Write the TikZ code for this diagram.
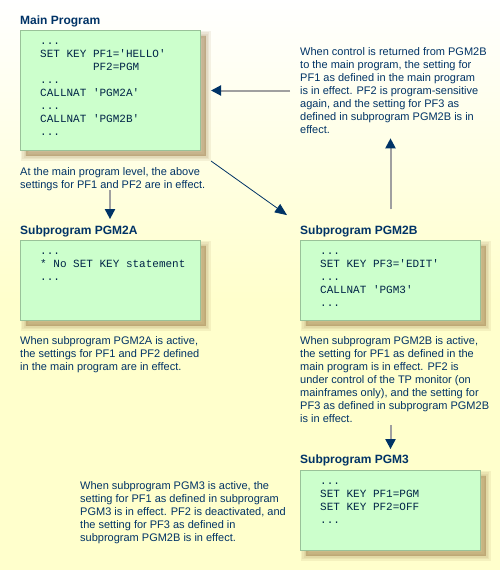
\documentclass[tikz,border=0pt]{standalone}
\usepackage{fontspec}
\setmainfont{Liberation Sans}
\setmonofont{Liberation Mono}
\usetikzlibrary{arrows.meta}
\definecolor{navy}{HTML}{003366}
\definecolor{bgy}{HTML}{FFFFCC}
\definecolor{boxfill}{HTML}{CCFFCC}
\definecolor{boxline}{HTML}{99C299}
\definecolor{arrgray}{HTML}{A0A0A0}
\definecolor{shc}{HTML}{9C7A48}
\begin{document}
\begin{tikzpicture}[x=1pt,y=-1pt,
 title/.style={anchor=base west, inner sep=0, font=\fontsize{12}{14}\selectfont\bfseries, text=navy},
 body/.style={anchor=base west, inner sep=0, align=left, font=\fontsize{11}{13}\selectfont, text=navy},
 code/.style={anchor=base west, inner sep=0, align=left, font=\fontsize{11}{13}\selectfont\ttfamily, text=navy!70!black},
 shlayer/.style={preaction={draw=shc, draw opacity=0.10, line width=#1, transform canvas={xshift=5pt,yshift=-5pt}}},
 codebox/.style={anchor=north west, draw=boxline, fill=boxfill, minimum width=180pt, minimum height=80pt, inner sep=0, line width=1pt,
   preaction={fill=shc, fill opacity=0.45, transform canvas={xshift=5pt,yshift=-5pt}},
   shlayer=10pt, shlayer=7pt, shlayer=4pt, shlayer=1.5pt},
 grayarrow/.style={draw=arrgray, line width=2pt, -{Triangle[length=10pt,width=10pt,color=navy]}},
 thinarrow/.style={draw=navy, line width=0.8pt, -{Triangle[length=12pt,width=10pt,color=navy]}}
]
\useasboundingbox (0,0) rectangle (500,570);
\fill[top color=white, bottom color=bgy] (0,0) rectangle (500,300);
\fill[bgy] (0,299) rectangle (500,570);

% Main program (multi-line nodes are placed by the baseline of their last line)
\node[title] (t1) at (20,24) {Main Program};
\node[codebox, minimum height=120pt] (mainbox) at (20,30) {};
\node[code] (maincode) at (40,135) {...\\SET KEY PF1='HELLO'\\\phantom{SET~KEY~}PF2=PGM\\...\\CALLNAT 'PGM2A'\\...\\CALLNAT 'PGM2B'\\...};
\node[body] (maintext) at (20,188) {At the main program level, the above\\settings for PF1 and PF2 are in effect.};
\node[body] (rettext) at (300,133) {When control is returned from PGM2B\\to the main program, the setting for\\PF1 as defined in the main program\\is in effect. PF2 is program-sensitive\\again, and the setting for PF3 as\\defined in subprogram PGM2B is in\\effect.};

% PGM2A
\node[title] (t2) at (20,234) {Subprogram PGM2A};
\node[codebox] (boxa) at (20,240) {};
\node[code] (codea) at (40,280) {...\\* No SET KEY statement\\...};
\node[body] (texta) at (20,370) {When subprogram PGM2A is active,\\the settings for PF1 and PF2 defined\\in the main program are in effect.};

% PGM2B
\node[title] (t3) at (300,234) {Subprogram PGM2B};
\node[codebox] (boxb) at (300,240) {};
\node[code] (codeb) at (320,306) {...\\SET KEY PF3='EDIT'\\...\\CALLNAT 'PGM3'\\...};
\node[body] (textb) at (300,422) {When subprogram PGM2B is active,\\the setting for PF1 as defined in the\\main program is in effect. PF2 is\\under control of the TP monitor (on\\mainframes only), and the setting for\\PF3 as defined in subprogram PGM2B\\is in effect.};

% PGM3
\node[title] (t4) at (300,463) {Subprogram PGM3};
\node[codebox] (box3) at (300,470) {};
\node[code] (code3) at (320,523) {...\\SET KEY PF1=PGM\\SET KEY PF2=OFF\\...};
\node[body] (text3) at (80,541) {When subprogram PGM3 is active, the\\setting for PF1 as defined in subprogram\\PGM3 is in effect. PF2 is deactivated, and\\the setting for PF3 as defined in\\subprogram PGM2B is in effect.};

% connectors
\coordinate (a1x) at (110,0);
\coordinate (a1e) at (t2.north -| a1x);
\draw[grayarrow] (maintext.south -| a1x) -- ([yshift=6pt]a1e);

\draw[thinarrow] ([shift={(10,10)}]mainbox.south east) -- ([shift={(-13,-10)}]t3.north west);

\coordinate (a3e) at (rettext.south -| boxb.north);
\draw[grayarrow] ([yshift=31pt]boxb.north) -- ([yshift=-5pt]a3e);

\coordinate (a4s) at (rettext.west |- mainbox.east);
\draw[grayarrow] ([xshift=-10pt]a4s) -- ([xshift=10pt]mainbox.east);

\coordinate (a5s) at (textb.south -| boxb.north);
\coordinate (a5e) at (t4.north -| boxb.north);
\draw[grayarrow] ([yshift=-3pt]a5s) -- ([yshift=5pt]a5e);
\end{tikzpicture}
\end{document}
